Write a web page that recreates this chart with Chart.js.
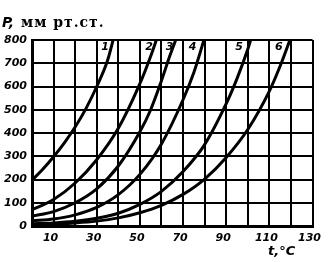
<html>
  <head>
    <script src="https://cdn.jsdelivr.net/npm/chart.js@4.4.0/dist/chart.umd.min.js"></script>
    <title>Давление пара</title>
  </head>
  <body style="margin:0;background:#fff">
    <canvas id="myChart" width="330" height="262"></canvas>
    <script>
// температура, °C и давление, мм рт.ст. для кривых 1-6
const t1 = [0, 5, 10, 15, 20, 25, 30, 35, 38];
const p1 = [197, 244, 298, 358, 426, 505, 600, 712, 815];
const t2 = [0, 10, 20, 30, 40, 50, 55, 58];
const p2 = [70, 114, 185, 285, 420, 612, 730, 810];
const t3 = [0, 10, 20, 30, 40, 50, 55, 60, 64, 67];
const p3 = [42, 62, 100, 160, 258, 405, 500, 625, 735, 810];
const t4 = [0, 10, 20, 30, 40, 50, 60, 70, 75, 80];
const p4 = [22, 30, 48, 80, 135, 222, 353, 543, 660, 810];
const t5 = [0, 10, 20, 30, 40, 50, 60, 70, 80, 90, 95, 100, 101.5];
const p5 = [10, 13, 20, 33, 55, 93, 149, 234, 350, 526, 634, 760, 805];
const t6 = [0, 10, 20, 30, 40, 50, 60, 70, 80, 90, 100, 110, 115, 120];
const p6 = [6, 8, 13, 21, 35, 57, 89, 136, 202, 295, 415, 580, 688, 812];

const curveNames = ['1', '2', '3', '4', '5', '6'];
const xLabels = [10, 30, 50, 70, 90, 110, 130];
const yTitle = 'мм рт.ст.';
const xTitle = 't,°C';

const allT = [t1, t2, t3, t4, t5, t6];
const allP = [p1, p2, p3, p4, p5, p6];

function toPoints(t, p) {
  return t.map((x, i) => ({ x: x, y: p[i] }));
}

const datasets = allT.map((t, k) => ({
  label: curveNames[k],
  data: toPoints(t, allP[k]),
  borderColor: '#000',
  borderWidth: 3,
  pointRadius: 0,
  cubicInterpolationMode: 'monotone',
  fill: false
}));

const tickFont = { family: 'DejaVu Sans', size: 11, weight: 'bold', style: 'italic' };

// сдвиг номера кривой влево от её верхнего конца, px
const nameShift = [9, 8, 7, 12, 12, 12];

const textPlugin = {
  id: 'textPlugin',
  afterDraw(chart) {
    const ctx = chart.ctx;
    const xs = chart.scales.x;
    const top = chart.chartArea.top;
    ctx.save();
    ctx.fillStyle = '#000';
    ctx.textBaseline = 'alphabetic';
    ctx.font = 'italic bold 14px "DejaVu Sans"';
    ctx.fillText('P,', 2, 27);
    ctx.font = 'bold 14px "DejaVu Serif"';
    ctx.letterSpacing = '1px';
    ctx.fillText(yTitle, 21, 27);
    ctx.letterSpacing = '0px';
    ctx.font = 'italic bold 13px "DejaVu Sans"';
    ctx.fillText(xTitle, 268, 255);
    ctx.font = 'italic bold 11px "DejaVu Sans"';
    ctx.textAlign = 'center';
    chart.data.datasets.forEach((ds, k) => {
      const t = allT[k];
      const x = xs.getPixelForValue(t[t.length - 1]) - nameShift[k];
      ctx.fillText(curveNames[k], x, top + 10);
    });
    ctx.restore();
  }
};

new Chart(document.getElementById('myChart'), {
  type: 'line',
  data: { datasets: datasets },
  plugins: [textPlugin],
  options: {
    responsive: false,
    animation: false,
    layout: { padding: { left: 0, right: 17, top: 40, bottom: 0 } },
    plugins: {
      legend: { display: false },
      tooltip: { enabled: false }
    },
    scales: {
      x: {
        type: 'linear',
        min: 0,
        max: 130,
        afterFit: (s) => { s.height = 36; },
        border: { color: '#000', width: 3 },
        grid: { color: '#000', lineWidth: 2, drawTicks: false },
        ticks: {
          stepSize: 10,
          padding: 6,
          labelOffset: -3,
          color: '#000',
          font: tickFont,
          maxRotation: 0,
          autoSkip: false,
          callback: (v) => (xLabels.includes(v) ? String(v) : '')
        }
      },
      y: {
        min: 0,
        max: 800,
        afterFit: (s) => { s.width = 32; },
        border: { color: '#000', width: 3 },
        grid: { color: '#000', lineWidth: 2, drawTicks: false },
        ticks: {
          stepSize: 100,
          padding: 5,
          color: '#000',
          font: tickFont
        }
      }
    }
  }
});
    </script>
  </body>
</html>
